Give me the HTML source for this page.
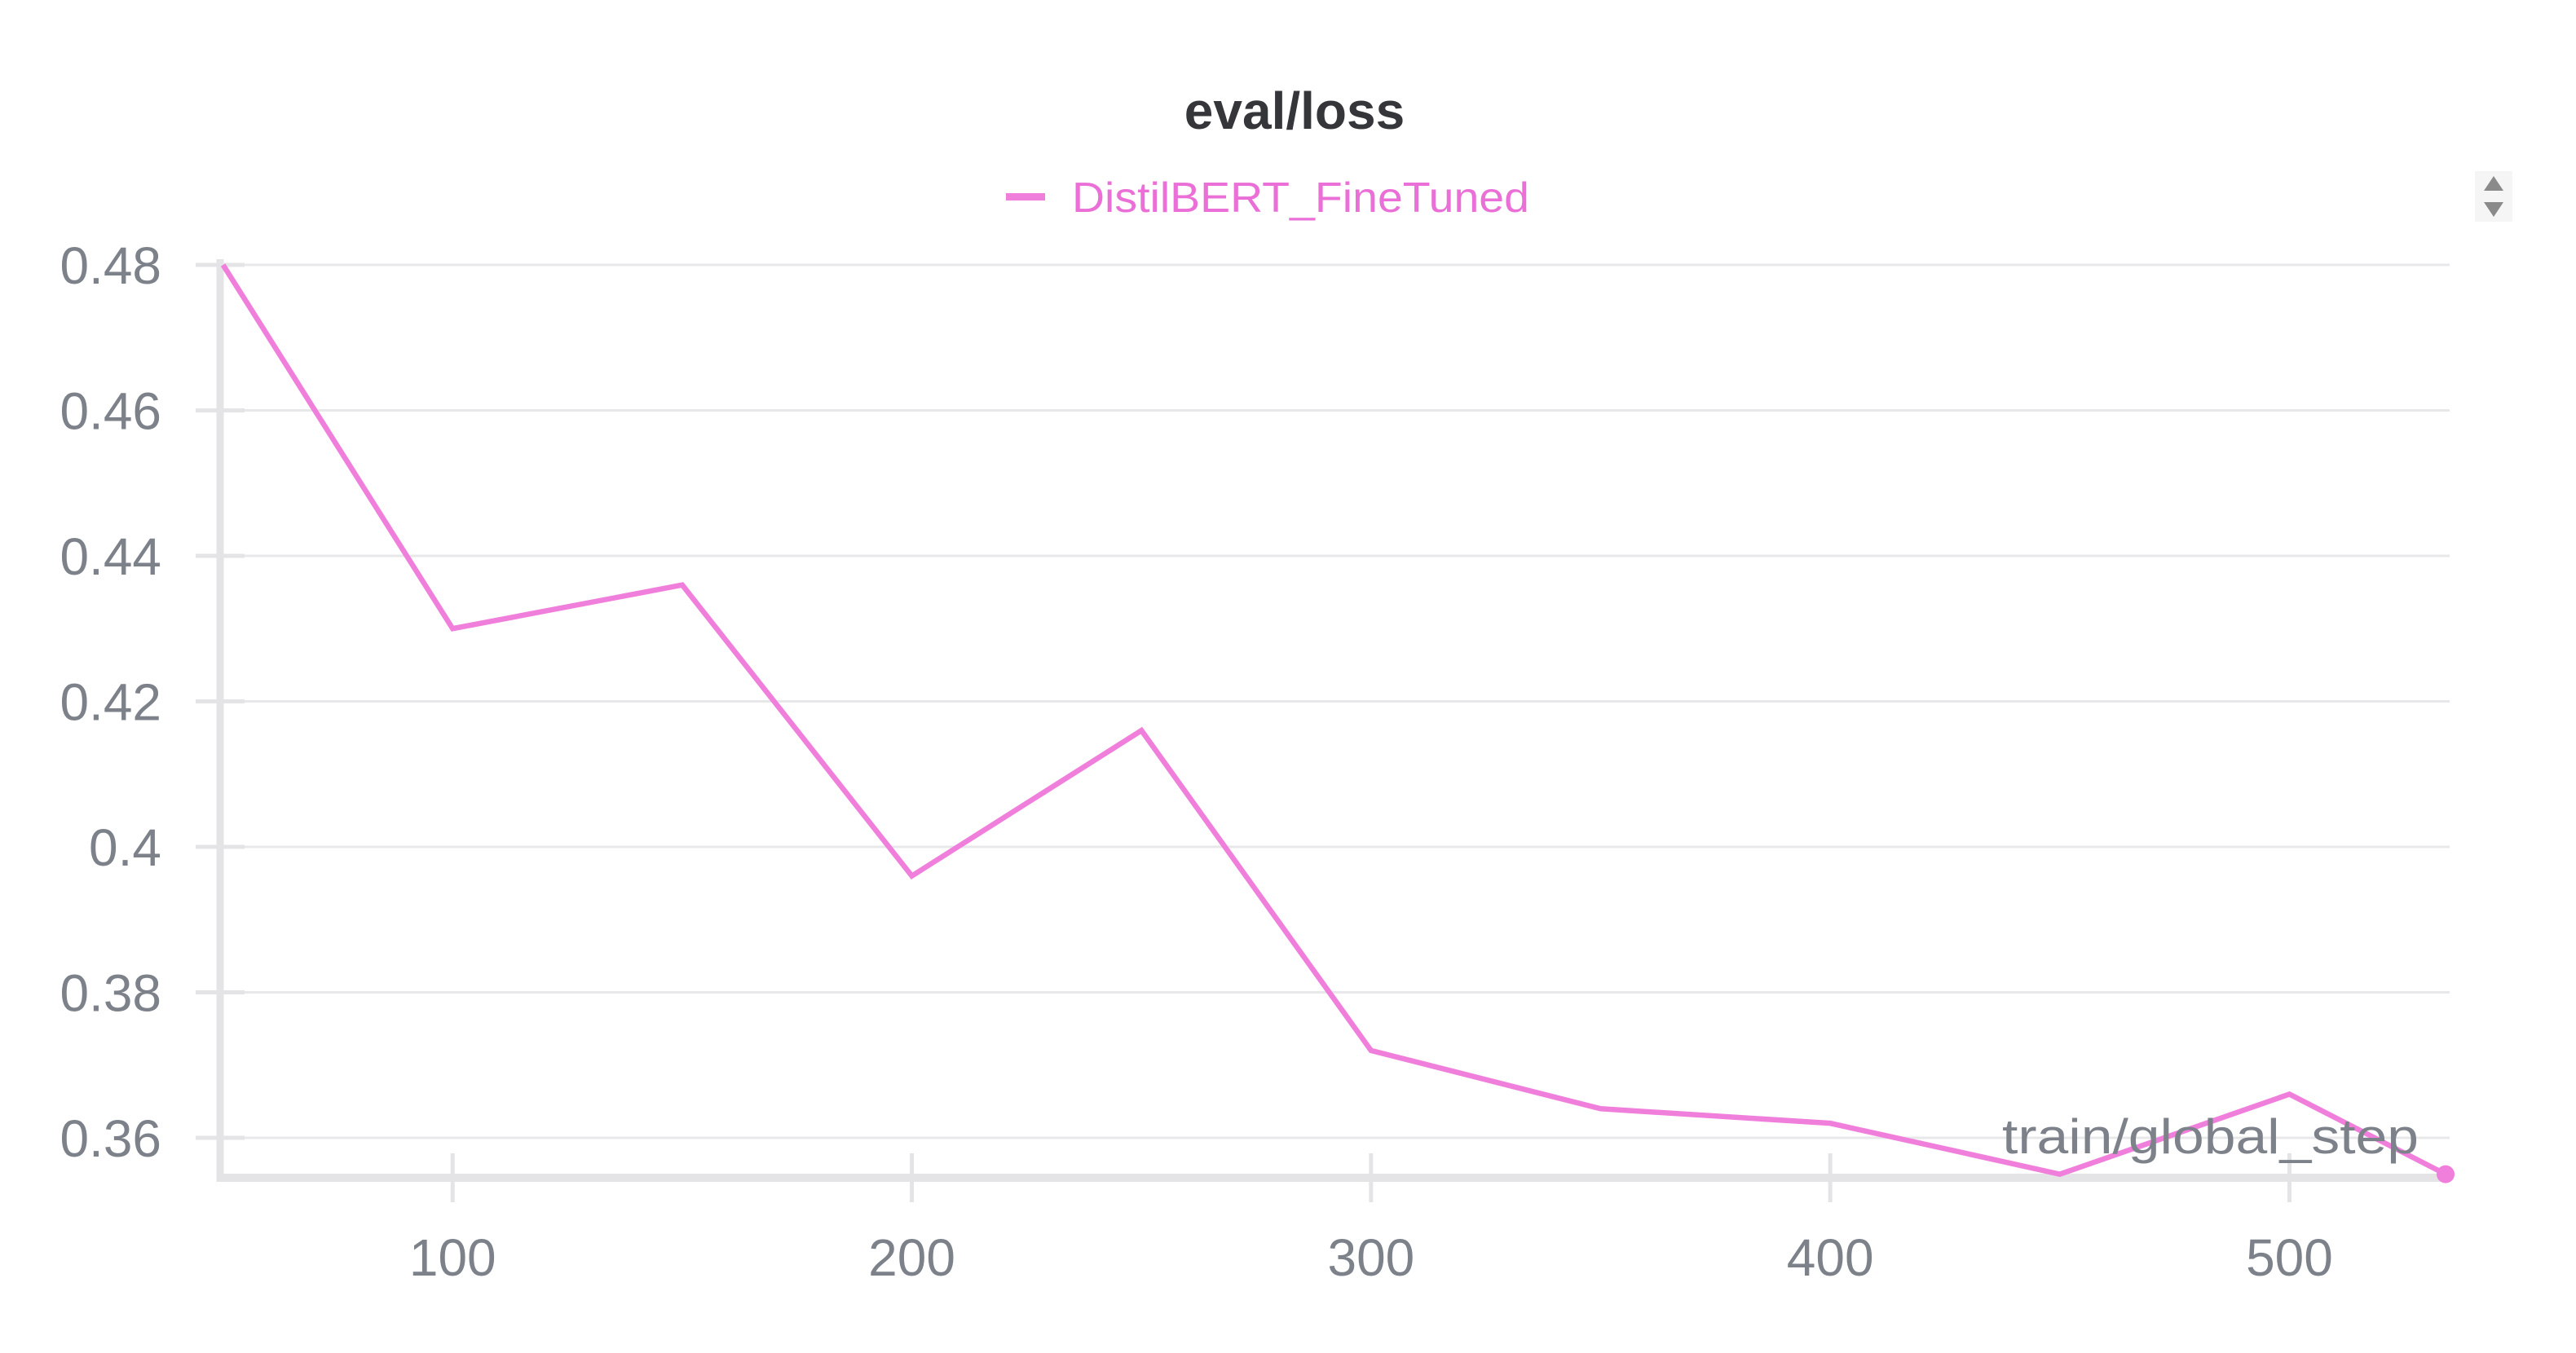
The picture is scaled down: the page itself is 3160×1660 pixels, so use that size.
<!DOCTYPE html>
<html><head><meta charset="utf-8"><style>
html,body{margin:0;padding:0;background:#fff;width:3160px;height:1660px;overflow:hidden}
svg text{font-family:"Liberation Sans",sans-serif}
</style></head><body>
<svg id="chart" width="3160" height="1660" xmlns="http://www.w3.org/2000/svg">
<text x="1588" y="158" text-anchor="middle" font-size="64" font-weight="bold" fill="#35363a">eval/loss</text>
<g>
<rect x="1234" y="237" width="48" height="9" fill="#f07fdc"/>
<text x="1315" y="260" font-size="52" fill="#ea6fd6" textLength="561" lengthAdjust="spacingAndGlyphs">DistilBERT_FineTuned</text>
</g>
<g>
<rect x="3036" y="210" width="46" height="62" fill="#f5f5f5"/>
<path d="M3059 216 L3071 234 L3047 234 Z" fill="#8a8a8a"/>
<path d="M3059 266 L3071 248 L3047 248 Z" fill="#8a8a8a"/>
</g>
<g id="grid"></g><g id="axes"></g><g id="series"></g>
<text x="2967" y="1415" text-anchor="end" font-size="60" fill="#7c818a" textLength="511" lengthAdjust="spacingAndGlyphs">train/global_step</text>
</svg>
<script>
const steps=[50,100,150,200,250,300,350,400,450,500,534];
const lossValues=[0.480,0.430,0.436,0.396,0.416,0.372,0.364,0.362,0.355,0.366,0.355];
const yTicks=[0.48,0.46,0.44,0.42,0.40,0.38,0.36];
const yTickLabels=["0.48","0.46","0.44","0.42","0.4","0.38","0.36"];
const xTicks=[100,200,300,400,500];
const xTickLabels=["100","200","300","400","500"];
const NS="http://www.w3.org/2000/svg";
const X0=50,X1=534,PX0=273.6,PX1=3000;
const Y0=0.48,Y1=0.36,PY0=325,PY1=1396;
function xs(v){return PX0+(v-X0)*(PX1-PX0)/(X1-X0);}
function ys(v){return PY0+(v-Y0)*(PY1-PY0)/(Y1-Y0);}
function mk(tag,attrs,parent){const e=document.createElementNS(NS,tag);for(const k in attrs)e.setAttribute(k,attrs[k]);parent.appendChild(e);return e;}
const grid=document.getElementById('grid'),axes=document.getElementById('axes'),series=document.getElementById('series');
const axisY=1445;
yTicks.forEach((t,i)=>{
  const y=ys(t);
  const g=mk('line',{x1:240,x2:3005,y1:y,y2:y,stroke:'#e8e8ea','stroke-width':3},grid);
  
  
  const tk=mk('line',{x1:240,x2:300,y1:y,y2:y,stroke:'#e4e4e7','stroke-width':5},grid);
  
  
  const l=mk('text',{x:198,y:y+23,'text-anchor':'end','font-size':64,fill:'#7c818a'},axes);
  l.textContent=yTickLabels[i];
  
  
});
const ya=mk('line',{x1:270,x2:270,y1:318,y2:axisY+5,stroke:'#e4e4e7','stroke-width':9},axes);


const xa=mk('line',{x1:266,x2:3000,y1:axisY,y2:axisY,stroke:'#e4e4e7','stroke-width':10},axes);


xTicks.forEach((t,i)=>{
  const x=xs(t);
  const tk=mk('line',{x1:x,x2:x,y1:1415,y2:1475,stroke:'#e4e4e7','stroke-width':5},axes);
  
  
  const l=mk('text',{x:x,y:1565,'text-anchor':'middle','font-size':64,fill:'#7c818a'},axes);
  l.textContent=xTickLabels[i];
  
  
});
const pts=steps.map((s,i)=>xs(s)+','+ys(lossValues[i])).join(' ');
const line=mk('polyline',{points:pts,fill:'none',stroke:'#f07fdc','stroke-width':6.5,'stroke-linejoin':'miter'},series);


const last=steps.length-1;
const dot=mk('circle',{cx:xs(steps[last]),cy:ys(lossValues[last]),r:11,fill:'#f07fdc'},series);


</script>
</body></html>
